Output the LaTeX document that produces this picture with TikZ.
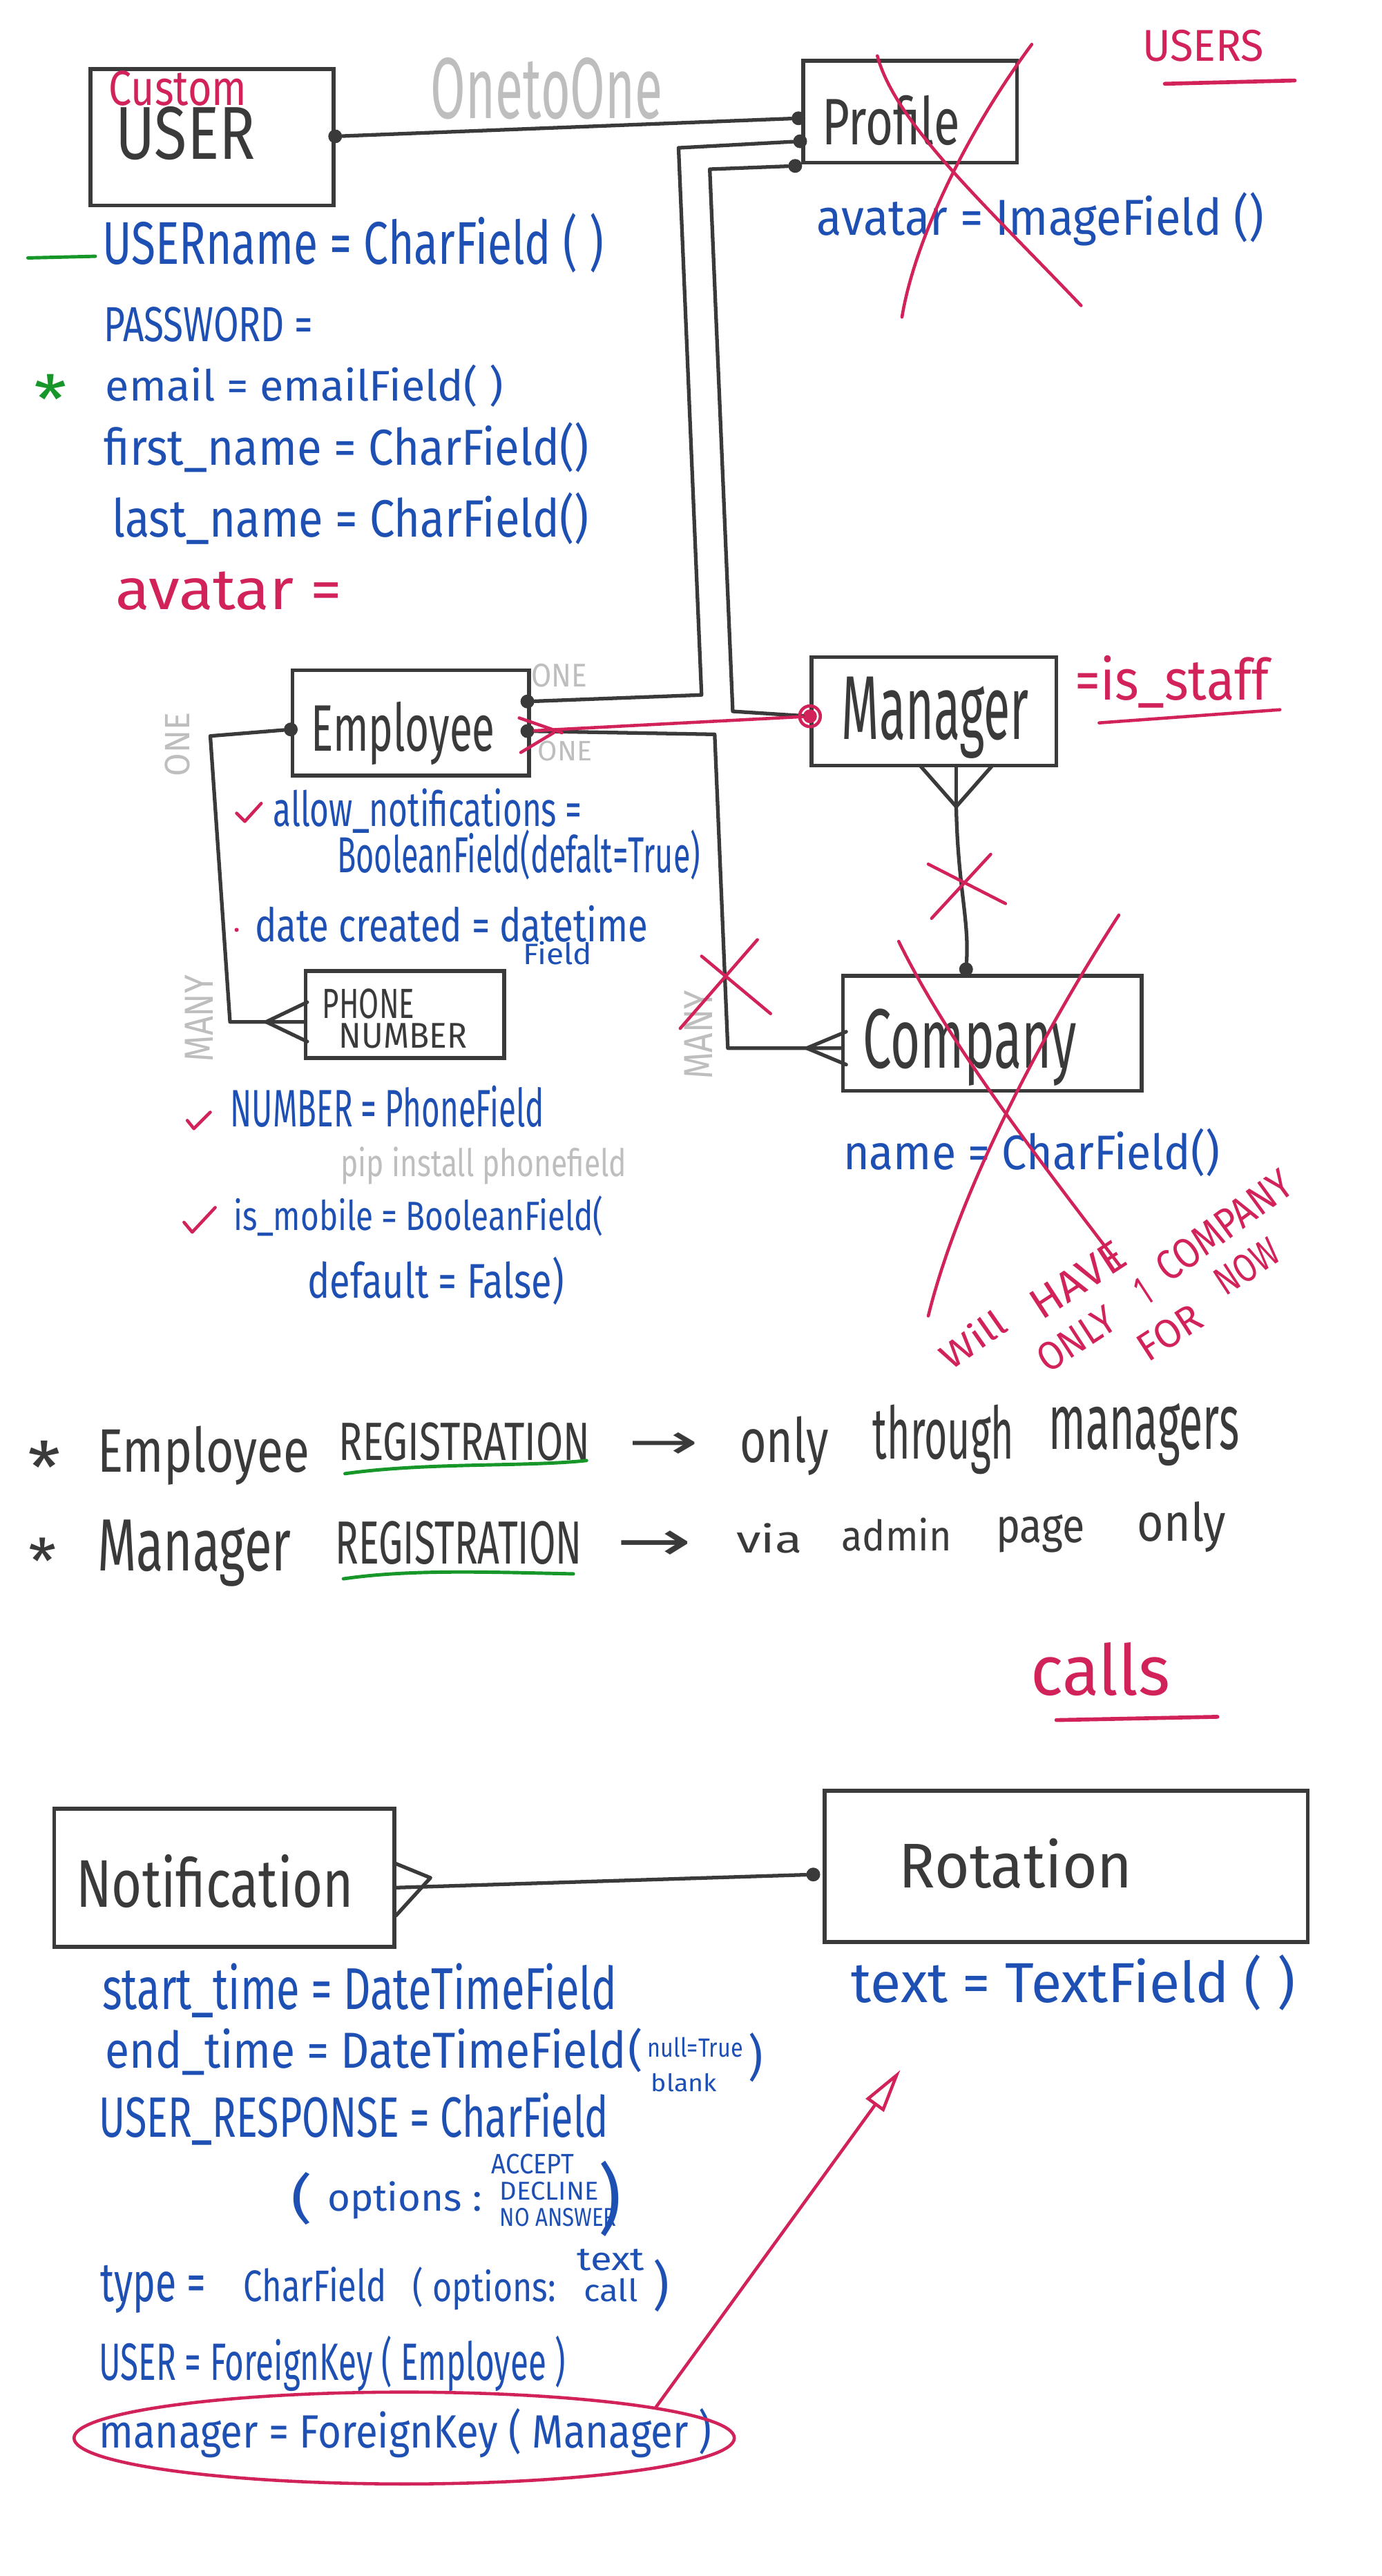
\documentclass[tikz,border=0pt]{standalone}
\usepackage{fontspec}
\setmainfont{Fira Sans}
\newfontfamily\dejavu{DejaVu Sans}
\usetikzlibrary{arrows.meta,fit,shapes.geometric}
\newlength\ux
\setlength\ux{0.023781cm}
\newcommand\hw[3]{\resizebox{#1\ux}{#2\ux}{#3}}
\newcommand\tallparen[3]{\resizebox*{#1\ux}{#2\ux}{#3}}
\definecolor{ink}{HTML}{3A3A3A}
\definecolor{pen}{HTML}{1E50B4}
\definecolor{rd}{HTML}{D2225A}
\definecolor{gr}{HTML}{17962A}
\definecolor{gy}{HTML}{BEBEBE}
\begin{document}
\begin{tikzpicture}[x=0.023781cm,y=-0.023788cm,
  box/.style={draw=ink,line width=1.6pt,inner sep=0pt},
  conn/.style={draw=ink,line width=1.5pt,line cap=round,line join=round},
  redln/.style={draw=rd,line width=1.3pt,line cap=round,line join=round},
  grln/.style={draw=gr,line width=1.4pt,line cap=round},
  dot/.style={circle,fill=ink,inner sep=0pt,minimum size=0.2cm},
  t/.style={inner sep=0pt,anchor=base west},
  bt/.style={t,text=pen},
  rt/.style={t,text=rd},
  kt/.style={t,text=ink},
  gt/.style={t,text=gy}]
\useasboundingbox[fill=white] (0,0) rectangle (841,1568);

% ---------- boxes ----------
\node[box,fit={(55,42)(203,125)}] (user) {};
\node[box,fit={(489,37)(619,99)}] (profile) {};
\node[box,fit={(178,408)(322,472)}] (employee) {};
\node[box,fit={(186,591)(307,644)}] (phone) {};
\node[box,fit={(494,400)(643,466)}] (manager) {};
\node[box,fit={(513,594)(695,664)}] (company) {};
\node[box,fit={(33,1101)(240,1185)}] (notification) {};
\node[box,fit={(502,1090)(796,1182)}] (rotation) {};

% ---------- box titles ----------
\node[rt] (tCustom) at (66,64) {\hw{84}{21}{Custom}};
\node[kt] (tUser) at (70,97) {\hw{85}{32}{USER}};
\node[kt] (tProfile) at (500,88) {\hw{84}{30}{Profile}};
\node[kt] (tEmployee) at (189,457) {\hw{112}{30}{Employee}};
\node[kt] (tManager) at (512,450) {\hw{114}{38}{Manager}};
\node[kt] (tCompany) at (525,650) {\hw{130}{36}{Company}};
\node[kt] (tPhone1) at (196,620) {\hw{56}{18}{PHONE}};
\node[kt] (tPhone2) at (206,638) {\hw{78}{15}{NUMBER}};
\node[kt] (tNotif) at (46,1161) {\hw{169}{32}{Notification}};
\node[kt] (tRot) at (547,1149) {\hw{142}{30}{Rotation}};

% ---------- connector ends ----------
\node[dot] (cU) at (204,83) {};
\node[dot] (cP1) at (486,72) {};
\node[dot] (cP2) at (487,86) {};
\node[dot] (cP3) at (484,101) {};
\node[dot] (cE1) at (321,427) {};
\node[dot] (cE2) at (321,445) {};
\node[dot] (cEL) at (177,444) {};
\node[dot,fill=rd] (cM) at (493,436) {};
\node[dot] (cC) at (588,590) {};
\node[dot] (cR) at (495,1141) {};
\coordinate (cCl) at (513,638);
\coordinate (pL) at (186,622);
\coordinate (mA) at (582,491);
\coordinate (nR) at (241,1149);

% ---------- connectors ----------
\draw[conn] (cU) -- (cP1);
\draw[conn] (cE1) -- (427,423) -- (413,90) -- (cP2);
\draw[conn] (cP3) -- (432,103) -- (446,433) -- (cM);
\draw[conn] (cE2) -- (435,447) -- (443,638) -- (cCl);
\draw[conn] (cEL) -- (128,448) -- (140,622) -- (pL);
\draw[conn] (mA) .. controls (583,540) and (590,560) .. (cC);
\draw[conn] (nR) -- (cR);
% crow's feet
\draw[conn] (187,610) -- (162,622) -- (187,634);
\draw[conn] (515,628) -- (491,638) -- (515,648);
\draw[conn] (560,466) -- (mA) -- (604,466);
\draw[conn] (582,466) -- (mA);
\draw[conn] (240,1134) -- (262,1143) -- (241,1166);

% ---------- labels on relations ----------
\node[gt] (oto) at (262,72) {\hw{141}{37}{OnetoOne}};
\node[gt] (one1) at (323,418) {\hw{34}{14}{ONE}};
\node[gt] (one2) at (327,463) {\hw{33}{12}{ONE}};
\node[gt,anchor=center,rotate=90] (one3) at (108,453) {\hw{39}{15}{ONE}};
\node[gt,anchor=center,rotate=90] (many1) at (121,620) {\hw{53}{17}{MANY}};
\node[gt,anchor=center,rotate=90] (many2) at (425,630) {\hw{54}{17}{MANY}};

% ---------- user fields ----------
\draw[grln] (17,157) -- (58,156);
\node[text=gr,inner sep=0pt] (gstar) at (31,243) {\hw{20}{30}{*}};
\node[bt] (f1) at (62,161) {\hw{305}{31}{USERname = CharField ( )}};
\node[bt] (f2) at (63,208) {\hw{127}{21}{PASSWORD =}};
\node[bt] (f3) at (64,244) {\hw{242}{22}{email = emailField( )}};
\node[bt] (f4) at (63,283) {\hw{295}{26}{first\_name = CharField()}};
\node[bt] (f5) at (68,327) {\hw{290}{27}{last\_name = CharField()}};
\node[rt] (f6) at (70,371) {\hw{138}{23}{avatar =}};
\node[bt] (pf1) at (497,143) {\hw{272}{26}{avatar = ImageField ()}};
\node[rt] (users) at (695,37) {\hw{74}{19}{USERS}};
\draw[redln,line width=1.6pt] (709,51) -- (788,49);

% ---------- employee / manager / company fields ----------
\node[rt] (staff) at (654,426) {\hw{118}{27}{=is\_staff}};
\draw[redln] (669,440) -- (779,432);
\draw[redln] (144,495) -- (149,500) -- (159,489);
\node[bt] (e1) at (166,503) {\hw{188}{23}{allow\_notifications =}};
\node[bt] (e2) at (205,531) {\hw{221}{26}{BooleanField(defalt=True)}};
\fill[rd] (144,566) circle[radius=0.03cm];
\node[bt] (e3) at (155,573) {\hw{239}{22}{date created = datetime}};
\node[bt] (e4) at (318,587) {\hw{42}{14}{Field}};
\draw[redln] (114,682) -- (118,687) -- (128,677);
\node[bt] (n1) at (140,686) {\hw{191}{25}{NUMBER = PhoneField}};
\node[gt] (n2) at (207,716) {\hw{174}{18}{pip install phonefield}};
\draw[redln] (112,744) -- (117,750) -- (131,735);
\node[bt] (n3) at (142,749) {\hw{225}{21}{is\_mobile = BooleanField(}};
\node[bt] (n4) at (187,790) {\hw{156}{25}{default = False)}};
\node[bt] (c1) at (513,712) {\hw{229}{25}{name = CharField()}};

% ---------- red corrections ----------
\draw[redln] (cE2) -- (cM);
\draw[redln] (316,437) -- (342,446);
\draw[redln] (317,458) -- (337,446);
\draw[rd,line width=1.3pt] (cM) circle[radius=0.15cm];
\draw[redln] (534,34) .. controls (545,75) and (600,125) .. (658,186);
\draw[redln] (628,27) .. controls (585,85) and (556,150) .. (549,193);
\draw[redln] (427,582) -- (469,617);
\draw[redln] (461,572) -- (414,626);
\draw[redln] (565,526) -- (612,550);
\draw[redln] (603,520) -- (567,559);
\draw[redln] (547,573) .. controls (575,630) and (620,690) .. (682,771);
\draw[redln] (681,557) .. controls (640,620) and (585,720) .. (565,801);
\node[rt,anchor=center,rotate=35] (w1) at (592,815) {\hw{44}{17}{Will}};
\node[rt,anchor=center,rotate=33] (w2) at (656,779) {\hw{64}{18}{HAVE}};
\node[rt,anchor=center,rotate=33] (w3) at (696,786) {\hw{7}{17}{1}};
\node[rt,anchor=center,rotate=36] (w4) at (745,746) {\hw{96}{18}{COMPANY}};
\node[rt,anchor=center,rotate=33] (w5) at (655,815) {\hw{52}{17}{ONLY}};
\node[rt,anchor=center,rotate=33] (w6) at (712,811) {\hw{42}{17}{FOR}};
\node[rt,anchor=center,rotate=33] (w7) at (759,771) {\hw{42}{17}{NOW}};

% ---------- registration notes ----------
\node[kt,anchor=center] (s1) at (27,893) {\hw{20}{32}{*}};
\node[kt] (r1a) at (59,896) {\hw{129}{28}{Employee}};
\node[kt] (r1b) at (206,889) {\hw{153}{23}{REGISTRATION}};
\node[kt,anchor=center] (r1c) at (404,880) {\hw{43}{16}{\dejavu →}};
\node[kt] (r1d) at (450,890) {\hw{54}{28}{only}};
\node[kt] (r1e) at (531,888) {\hw{86}{33}{through}};
\node[kt] (r1f) at (638,882) {\hw{116}{28}{managers}};
\draw[grln] (210,897) .. controls (260,890) and (320,893) .. (357,889);
\node[kt,anchor=center] (s2) at (26,950) {\hw{17}{28}{*}};
\node[kt] (r2a) at (59,956) {\hw{118}{31}{Manager}};
\node[kt] (r2b) at (204,952) {\hw{150}{26}{REGISTRATION}};
\node[kt,anchor=center] (r2c) at (398,941) {\hw{46}{18}{\dejavu →}};
\node[kt] (r2d) at (448,945) {\hw{40}{18}{via}};
\node[kt] (r2e) at (512,944) {\hw{67}{20}{admin}};
\node[kt] (r2f) at (606,939) {\hw{54}{17}{page}};
\node[kt] (r2g) at (692,938) {\hw{54}{24}{only}};
\draw[grln] (209,961) .. controls (250,955) and (300,957) .. (349,958);

% ---------- calls ----------
\node[rt] (calls) at (627,1032) {\hw{85}{32}{calls}};
\draw[redln,line width=1.6pt] (643,1047) -- (741,1045);
\node[bt] (rt1) at (518,1219) {\hw{270}{29}{text = TextField ( )}};
\node[bt] (nf1) at (62,1223) {\hw{313}{28}{start\_time = DateTimeField}};
\node[bt] (nf2) at (64,1259) {\hw{317}{24}{end\_time = DateTimeField}};
\node[bt,anchor=north west] (p1) at (382,1234) {\tallparen{9}{27}{(}};
\node[bt] (nf2a) at (394,1252) {\hw{58}{12}{null=True}};
\node[bt] (nf2b) at (396,1273) {\hw{40}{11}{blank}};
\node[bt,anchor=north west] (p2) at (455,1237) {\tallparen{9}{30}{)}};
\node[bt] (nf3) at (60,1301) {\hw{310}{27}{USER\_RESPONSE = CharField}};
\node[bt,anchor=north west] (p3) at (177,1322) {\tallparen{13}{32}{(}};
\node[bt] (nf3a) at (199,1346) {\hw{94}{18}{options :}};
\node[bt] (nf3b) at (299,1323) {\hw{50}{12}{ACCEPT}};
\node[bt] (nf3c) at (304,1339) {\hw{60}{11}{DECLINE}};
\node[bt] (nf3d) at (304,1355) {\hw{71}{11}{NO ANSWER}};
\node[bt,anchor=north west] (p4) at (364,1315) {\tallparen{14}{46}{)}};
\node[bt] (nf4a) at (61,1401) {\hw{64}{22}{type =}};
\node[bt] (nf4b) at (148,1401) {\hw{87}{21}{CharField}};
\node[bt] (nf4c) at (251,1401) {\hw{87}{21}{( options:}};
\node[bt] (nf4d) at (351,1382) {\hw{41}{13}{text}};
\node[bt] (nf4e) at (355,1401) {\hw{33}{14}{call}};
\node[bt,anchor=north west] (p5) at (397,1375) {\tallparen{10}{32}{)}};
\node[bt] (nf5) at (60,1449) {\hw{284}{27}{USER = ForeignKey ( Employee )}};
\node[bt] (nf6) at (60,1490) {\hw{373}{24}{manager = ForeignKey ( Manager )}};
\node[draw=rd,line width=1.3pt,ellipse,inner sep=0pt,minimum width=9.56cm,minimum height=1.33cm] (ring) at (246,1484) {};
\coordinate (arrT) at (548,1260);
\draw[redln,-{Triangle[open,length=18pt,width=9pt]}] (ring.7) -- (arrT);
\end{tikzpicture}
\end{document}
